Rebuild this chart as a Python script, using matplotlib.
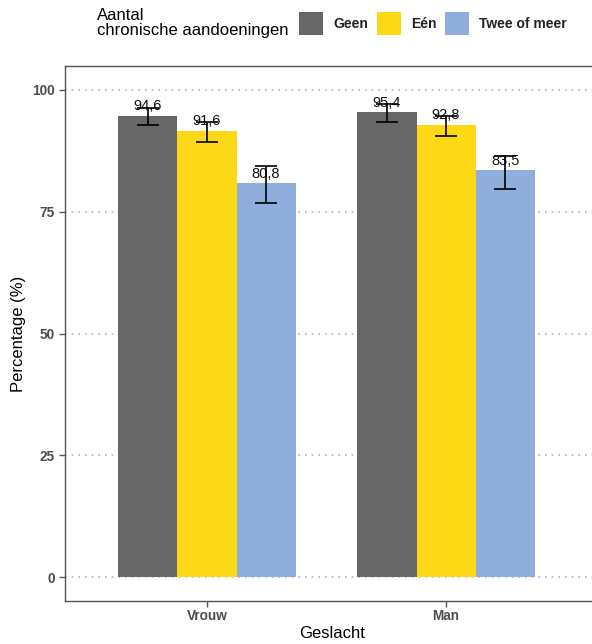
import numpy as np
import matplotlib
matplotlib.use("Agg")
import matplotlib.pyplot as plt
from matplotlib.patches import Rectangle

plt.rcParams["font.family"] = ["Liberation Sans", "DejaVu Sans"]

groups = ["Vrouw", "Man"]
categories = ["Geen", "Eén", "Twee of meer"]
colors = ["#676767", "#FCD817", "#8FAEDB"]

values = {
    "Geen": [94.6, 95.4],
    "Eén": [91.6, 92.8],
    "Twee of meer": [80.8, 83.5],
}
lower = {
    "Geen": [92.7, 93.4],
    "Eén": [89.2, 90.6],
    "Twee of meer": [76.7, 79.7],
}
upper = {
    "Geen": [96.3, 97.0],
    "Eén": [93.5, 94.7],
    "Twee of meer": [84.3, 86.5],
}

W, H = 592, 644
fig = plt.figure(figsize=(W / 100, H / 100), dpi=100)
ax = fig.add_axes([65 / W, (H - 601) / H, (600 - 65) / W, (601 - 66) / H])

bar_w = 0.247
x = np.arange(len(groups))
for i, cat in enumerate(categories):
    xs = x + (i - 1) * bar_w
    v = np.array(values[cat])
    lo = np.array(lower[cat])
    hi = np.array(upper[cat])
    ax.bar(xs, v, width=bar_w, color=colors[i], zorder=2)
    for xi, vi in zip(xs, v):
        ax.text(xi, vi + 2.0, f"{vi:.1f}".replace(".", ","), ha="center",
                va="center", fontsize=10.5, color="#111111", zorder=3)
    ax.errorbar(xs, v, yerr=[v - lo, hi - v], fmt="none", ecolor="black",
                elinewidth=1.2, capsize=8, capthick=1.2, zorder=4)

ax.set_xlim(-0.594, 1.644)
ax.set_ylim(-4.9, 104.9)
ax.set_yticks([0, 25, 50, 75, 100])
ax.set_xticks(x)
ax.set_xticklabels(groups)
ax.yaxis.grid(True, linestyle=(0, (1, 3)), color="#b5b5b5", linewidth=1.2, zorder=0)
ax.set_axisbelow(True)

for s in ax.spines.values():
    s.set_color("#555555")
    s.set_linewidth(1.0)
ax.tick_params(axis="both", colors="#555555", length=4, width=1.0,
               labelsize=9.8, labelcolor="#4d4d4d")
ax.tick_params(axis="x", pad=2)
for lab in ax.get_xticklabels() + ax.get_yticklabels():
    lab.set_fontweight("bold")

ax.set_ylabel("Percentage (%)", fontsize=12, color="black", labelpad=4)
ax.set_xlabel("Geslacht", fontsize=12, color="black", labelpad=2)

# legend on top, drawn by hand in pixel positions
fig.text(97 / W, 1 - 23 / H, "Aantal\nchronische aandoeningen", ha="left",
         va="center", fontsize=12, color="black", linespacing=1.05)
key_left = [299, 377, 445]
for cat, col, kx in zip(categories, colors, key_left):
    fig.add_artist(Rectangle((kx / W, 1 - 35 / H), 24 / W, 23 / H,
                             transform=fig.transFigure, facecolor=col,
                             edgecolor="none"))
    fig.text((kx + 34) / W, 1 - 24 / H, cat, ha="left", va="center",
             fontsize=10, fontweight="bold", color="#222222")

fig.savefig("out.png", dpi=100)
